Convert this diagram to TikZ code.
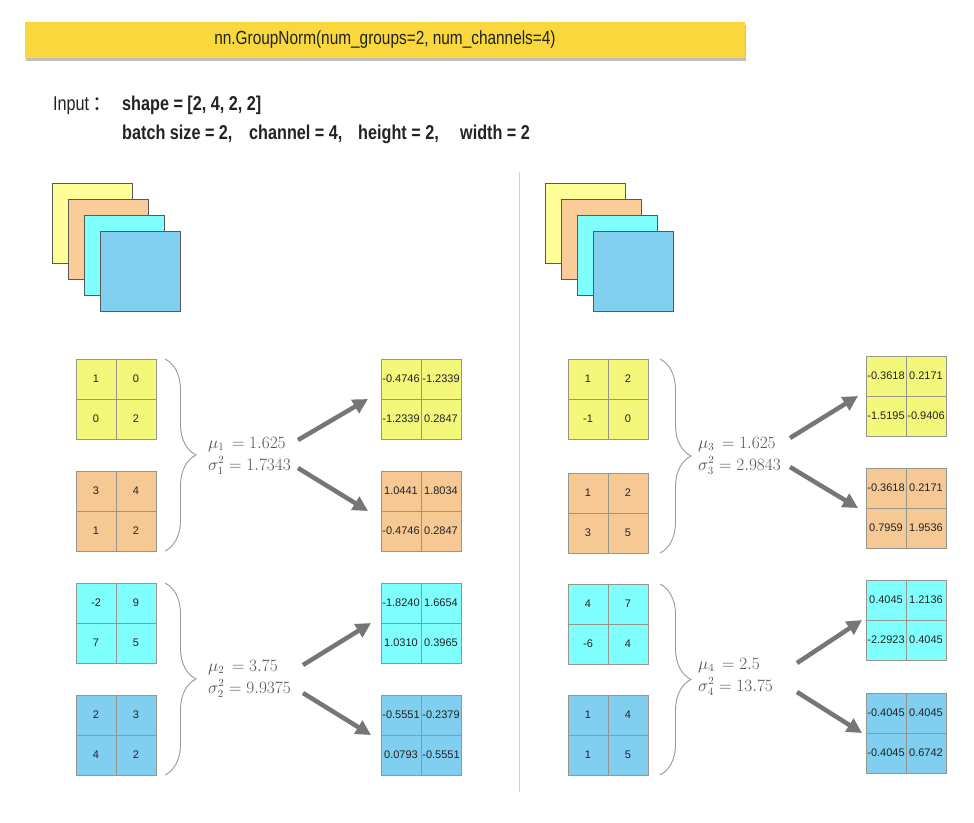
\documentclass[tikz,border=0pt]{standalone}
\usepackage{fontspec}
\setmainfont{Liberation Sans}
\newfontfamily\condfont[FakeStretch=0.81]{Liberation Sans}
\newfontfamily\cjkfont{Noto Sans CJK SC}
\usetikzlibrary{arrows.meta,decorations.pathreplacing,shadows}
\definecolor{titlebar}{RGB}{248,216,60}
\definecolor{sqY}{RGB}{255,255,153}
\definecolor{sqO}{RGB}{250,204,153}
\definecolor{sqC}{RGB}{128,255,255}
\definecolor{sqB}{RGB}{130,208,240}
\definecolor{gY}{RGB}{243,248,122}
\definecolor{gO}{RGB}{245,200,148}
\definecolor{gC}{RGB}{128,255,255}
\definecolor{gB}{RGB}{128,206,240}
\definecolor{txt}{RGB}{35,35,35}
\definecolor{mathgray}{RGB}{85,85,85}
\definecolor{arrowgray}{RGB}{118,118,118}
\definecolor{gridline}{RGB}{150,150,140}
\definecolor{sepline}{RGB}{210,210,210}
\newcommand\cellgrid[8]{%
  \node[cell,fill=#4,anchor=north west] (#1a) at (#2,#3) {#5};
  \node[cell,fill=#4,anchor=north west] (#1b) at (#1a.north east) {#6};
  \node[cell,fill=#4,anchor=north west] (#1c) at (#1a.south west) {#7};
  \node[cell,fill=#4,anchor=north west] (#1d) at (#1a.south east) {#8};
}
\begin{document}
\begin{tikzpicture}[x=1pt,y=-1pt,
  cell/.style={draw=gridline,line width=0.8pt,inner sep=0pt,outer sep=0pt,
    minimum width=40pt,minimum height=40pt,text=txt,font=\fontsize{11}{13}\selectfont},
  sheet/.style={draw=black!65,line width=0.8pt,inner sep=0pt,outer sep=0pt,
    minimum width=80pt,minimum height=80pt,anchor=north west},
  bracestyle/.style={draw=black!40,line width=0.9pt,decorate,
    decoration={brace,amplitude=31pt}},
  stat/.style={text=mathgray,anchor=base west,inner sep=0pt,
    font=\fontsize{16}{21}\selectfont},
  bigarrow/.style={draw=arrowgray,line width=4.5pt,
    -{Triangle[length=15pt,width=15pt]}},
  label/.style={text=txt,inner sep=0pt,anchor=base west,
    font=\condfont\fontsize{20}{24}\selectfont\bfseries}]
\useasboundingbox (0,0) rectangle (974,822);
\fill[white] (0,0) rectangle (974,822);

% title
\node[fill=titlebar,minimum width=720pt,minimum height=36pt,inner sep=0pt,
  drop shadow={shadow xshift=1pt,shadow yshift=-3pt,fill=black,opacity=0.25},
  text=txt,font=\condfont\fontsize{19}{22}\selectfont] (title) at (385,40)
  {nn.GroupNorm(num\_groups=2, num\_channels=4)};

% input description
\node[label,font=\condfont\fontsize{20}{24}\selectfont] (inlab) at (53,110) {Input\,{\cjkfont ：}};
\node[label] (shape) at (122,110) {shape = [2, 4, 2, 2]};
\node[label] (bs) at (122,139) {batch size = 2,};
\node[label] (ch) at (249,139) {channel = 4,};
\node[label] (ht) at (358,139) {height = 2,};
\node[label] (wd) at (460,139) {width = 2};

% separator
\draw[sepline,line width=1pt] (519,172) -- (519,792);

% stacks
\node[sheet,fill=sqY] (LsY) at (52,183) {};
\node[sheet,fill=sqO] (LsO) at (68,199) {};
\node[sheet,fill=sqC] (LsC) at (84,215) {};
\node[sheet,fill=sqB] (LsB) at (100,231) {};
\node[sheet,fill=sqY] (RsY) at (545,183) {};
\node[sheet,fill=sqO] (RsO) at (561,199) {};
\node[sheet,fill=sqC] (RsC) at (577,215) {};
\node[sheet,fill=sqB] (RsB) at (593,231) {};

% left input grids
\cellgrid{LYi}{76}{359}{gY}{1}{0}{0}{2}
\cellgrid{LOi}{76}{471}{gO}{3}{4}{1}{2}
\cellgrid{LCi}{76}{583}{gC}{-2}{9}{7}{5}
\cellgrid{LBi}{76}{695}{gB}{2}{3}{4}{2}
% left output grids
\cellgrid{LYo}{381}{359}{gY}{-0.4746}{-1.2339}{-1.2339}{0.2847}
\cellgrid{LOo}{381}{471}{gO}{1.0441}{1.8034}{-0.4746}{0.2847}
\cellgrid{LCo}{381}{583}{gC}{-1.8240}{1.6654}{1.0310}{0.3965}
\cellgrid{LBo}{381}{695}{gB}{-0.5551}{-0.2379}{0.0793}{-0.5551}
% right input grids
\cellgrid{RYi}{568}{359}{gY}{1}{2}{-1}{0}
\cellgrid{ROi}{568}{473}{gO}{1}{2}{3}{5}
\cellgrid{RCi}{568}{584}{gC}{4}{7}{-6}{4}
\cellgrid{RBi}{568}{695}{gB}{1}{4}{1}{5}
% right output grids
\cellgrid{RYo}{866}{356}{gY}{-0.3618}{0.2171}{-1.5195}{-0.9406}
\cellgrid{ROo}{866}{468}{gO}{-0.3618}{0.2171}{0.7959}{1.9536}
\cellgrid{RCo}{866}{580}{gC}{0.4045}{1.2136}{-2.2923}{0.4045}
\cellgrid{RBo}{866}{693}{gB}{-0.4045}{0.4045}{-0.4045}{0.6742}

% braces
\draw[bracestyle] ([xshift=9pt]LYib.north east) -- ([xshift=9pt]LOid.south east);
\draw[bracestyle] ([xshift=9pt]LCib.north east) -- ([xshift=9pt]LBid.south east);
\draw[bracestyle] ([xshift=12pt]RYib.north east) -- ([xshift=12pt]ROid.south east);
\draw[bracestyle] ([xshift=12pt]RCib.north east) -- ([xshift=12pt]RBid.south east);

% statistics
\node[stat] (mu1) at (208,448) {$\mu_1\,= 1.625$};
\node[stat] (sg1) at (208,470) {$\sigma_1^2 = 1.7343$};
\node[stat] (mu2) at (208,671) {$\mu_2\,= 3.75$};
\node[stat] (sg2) at (208,693) {$\sigma_2^2 = 9.9375$};
\node[stat] (mu3) at (698,448) {$\mu_3\,= 1.625$};
\node[stat] (sg3) at (698,470) {$\sigma_3^2 = 2.9843$};
\node[stat] (mu4) at (698,669) {$\mu_4\,= 2.5$};
\node[stat] (sg4) at (698,691) {$\sigma_4^2 = 13.75$};

% arrow tails
\coordinate (t1u) at (298,440);
\coordinate (t1d) at (298,468);
\coordinate (t2u) at (303,665);
\coordinate (t2d) at (303,693);
\coordinate (t3u) at (790,438);
\coordinate (t3d) at (790,467);
\coordinate (t4u) at (797,663);
\coordinate (t4d) at (797,692);

\draw[bigarrow] (t1u) -- ([xshift=-13pt]LYoa.south west);
\draw[bigarrow] (t1d) -- ([xshift=-13pt]LOoa.south west);
\draw[bigarrow] (t2u) -- ([xshift=-10pt]LCoa.south west);
\draw[bigarrow] (t2d) -- ([xshift=-10pt]LBoa.south west);
\draw[bigarrow] (t3u) -- ([xshift=-8pt]RYoa.south west);
\draw[bigarrow] (t3d) -- ([xshift=-8pt]ROoa.south west);
\draw[bigarrow] (t4u) -- ([xshift=-4pt]RCoa.south west);
\draw[bigarrow] (t4d) -- ([xshift=-4pt]RBoa.south west);
\end{tikzpicture}
\end{document}
